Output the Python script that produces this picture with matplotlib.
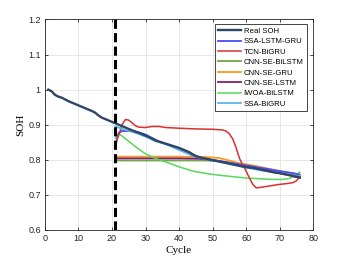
import numpy as np
import matplotlib
matplotlib.use("Agg")
import matplotlib.pyplot as plt

# -------------------------------
# Data
# -------------------------------
real_cycle = list(range(1, 77))
real_soh = [1.000, 0.995, 0.985, 0.980, 0.977, 0.972, 0.967, 0.963, 0.959, 0.955,
            0.951, 0.947, 0.943, 0.939, 0.934, 0.926, 0.920, 0.916, 0.912, 0.908,
            0.904, 0.900, 0.896, 0.892, 0.888, 0.884, 0.880, 0.877, 0.873, 0.869,
            0.865, 0.860, 0.855, 0.852, 0.849, 0.846, 0.843, 0.840, 0.837, 0.834,
            0.830, 0.826, 0.822, 0.816, 0.811, 0.808, 0.805, 0.803, 0.801, 0.799,
            0.797, 0.795, 0.793, 0.791, 0.789, 0.787, 0.785, 0.783, 0.781, 0.779,
            0.778, 0.777, 0.775, 0.773, 0.771, 0.769, 0.767, 0.765, 0.763, 0.762,
            0.760, 0.758, 0.756, 0.754, 0.752, 0.750]

lstm_gru_cycle = [21, 21.5, 22, 23, 25, 27, 28, 30, 32, 34, 36, 38, 40, 42, 44, 46, 48, 50, 55, 60, 65, 70, 74, 76]
lstm_gru_soh = [0.835, 0.860, 0.877, 0.882, 0.882, 0.881, 0.878, 0.872, 0.862, 0.852, 0.845, 0.838,
                0.830, 0.822, 0.812, 0.806, 0.803, 0.800, 0.792, 0.784, 0.776, 0.768, 0.762, 0.758]

tcn_cycle = [21, 22, 23, 24, 25, 26, 27, 28, 30, 32, 34, 36, 40, 45, 50, 53, 54, 55, 56, 57,
             58, 59, 60, 61, 62, 63, 64, 66, 68, 70, 72, 74, 75, 76]
tcn_soh = [0.845, 0.870, 0.900, 0.915, 0.913, 0.905, 0.897, 0.893, 0.892, 0.895, 0.895, 0.892,
           0.890, 0.888, 0.887, 0.885, 0.882, 0.874, 0.860, 0.835, 0.805, 0.785, 0.768, 0.748,
           0.730, 0.720, 0.721, 0.724, 0.727, 0.730, 0.732, 0.735, 0.740, 0.752]

bilstm_cycle = [21, 30, 40, 48, 52, 56, 60, 65, 70, 76]
bilstm_soh = [0.798, 0.798, 0.798, 0.798, 0.796, 0.790, 0.782, 0.772, 0.763, 0.752]

segru_cycle = [21, 30, 40, 48, 52, 55, 58, 62, 65, 70, 73, 76]
segru_soh = [0.809, 0.809, 0.809, 0.808, 0.805, 0.798, 0.790, 0.784, 0.778, 0.768, 0.762, 0.756]

selstm_cycle = [21, 30, 40, 46, 50, 55, 60, 65, 70, 73, 76]
selstm_soh = [0.804, 0.804, 0.804, 0.803, 0.799, 0.791, 0.781, 0.772, 0.762, 0.756, 0.748]

iwoa_cycle = [21, 22, 23, 24, 26, 28, 30, 33, 36, 40, 44, 48, 52, 56, 60, 64, 68, 71, 73, 75, 76]
iwoa_soh = [0.862, 0.874, 0.868, 0.860, 0.845, 0.830, 0.817, 0.804, 0.794, 0.780, 0.768, 0.761,
            0.756, 0.752, 0.748, 0.746, 0.744, 0.744, 0.747, 0.757, 0.765]

bigru_cycle = [21, 24, 27, 30, 33, 36, 40, 44, 48, 52, 56, 60, 65, 70, 74, 76]
bigru_soh = [0.895, 0.885, 0.877, 0.866, 0.853, 0.845, 0.828, 0.812, 0.801, 0.795, 0.786,
             0.778, 0.769, 0.762, 0.756, 0.753]

split_cycle = 21

# -------------------------------
# Plot
# -------------------------------
fig = plt.figure(figsize=(3.46, 2.59), dpi=100)
ax = fig.add_axes([0.130, 0.112, 0.775, 0.813])

ax.plot(real_cycle, real_soh, color="#2e4566", lw=1.7, label="Real SOH", zorder=5)
ax.plot(lstm_gru_cycle, lstm_gru_soh, color="#4a4aff", lw=1.3, label="SSA-LSTM-GRU", zorder=4)
ax.plot(tcn_cycle, tcn_soh, color="#d93030", lw=1.1, label="TCN-BiGRU", zorder=4)
ax.plot(bilstm_cycle, bilstm_soh, color="#72a842", lw=1.3, label="CNN-SE-BiLSTM", zorder=3)
ax.plot(segru_cycle, segru_soh, color="#ff9a1a", lw=1.3, label="CNN-SE-GRU", zorder=3)
ax.plot(selstm_cycle, selstm_soh, color="#7e1f76", lw=1.3, label="CNN-SE-LSTM", zorder=3)
ax.plot(iwoa_cycle, iwoa_soh, color="#5ad65a", lw=1.1, label="IWOA-BiLSTM", zorder=3)
ax.plot(bigru_cycle, bigru_soh, color="#5bb4e6", lw=1.3, label="SSA-BiGRU", zorder=4)

ax.axvline(split_cycle, color="black", lw=2.2, ls=(0, (3.0, 1.4)), zorder=6)

ax.set_xlim(0, 80)
ax.set_ylim(0.6, 1.2)
ax.set_xticks(np.arange(0, 81, 10))
ax.set_yticks([0.6, 0.7, 0.8, 0.9, 1.0, 1.1, 1.2])
ax.set_yticklabels(["0.6", "0.7", "0.8", "0.9", "1", "1.1", "1.2"])

ax.grid(True, color="#e3e3e3", lw=0.6)
ax.set_axisbelow(True)
ax.tick_params(direction="in", length=2.5, width=0.6, labelsize=6.5, colors="#262626",
               top=True, right=True, pad=3)
for lab in ax.get_xticklabels() + ax.get_yticklabels():
    lab.set_family("Liberation Sans")
for s in ax.spines.values():
    s.set_linewidth(0.6)
    s.set_color("#262626")

ax.set_xlabel("Cycle", family="Liberation Serif", fontsize=8, labelpad=2)
ax.set_ylabel("SOH", family="Liberation Serif", fontsize=8, labelpad=2)

leg = ax.legend(loc="upper right", bbox_to_anchor=(0.99, 0.995),
                prop={"family": "Liberation Sans", "size": 5.6},
                handlelength=2.9, handletextpad=0.35, labelspacing=0.38,
                borderpad=0.4, fancybox=False, framealpha=1, edgecolor="#262626")
leg.get_frame().set_linewidth(0.6)

fig.savefig("out.png", dpi=100)
